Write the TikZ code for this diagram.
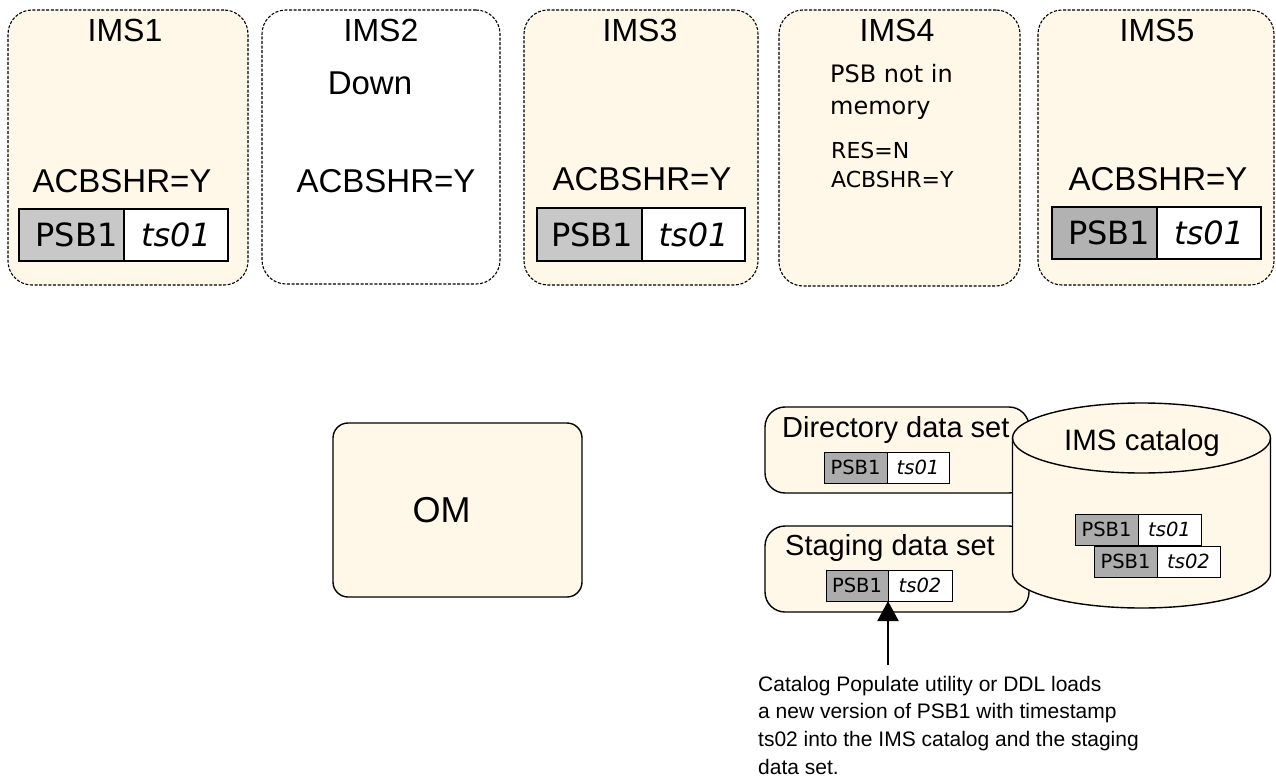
\documentclass[tikz,border=0pt]{standalone}
\usepackage{fontspec}
\setmainfont{Liberation Sans}
\newfontfamily\dvfont{DejaVu Sans}
\usetikzlibrary{arrows.meta}
\definecolor{cream}{RGB}{255,247,231}
\definecolor{psbgA}{RGB}{200,200,200}
\definecolor{psbgB}{RGB}{178,178,178}
\definecolor{psbgC}{RGB}{172,172,172}
\newcommand\fsz[1]{\fontsize{#1}{#1}\selectfont}
\begin{document}
\begin{tikzpicture}[x=1pt,y=-1pt,
  imsbox/.style={draw, line width=1.1pt, dash pattern=on 3pt off 1.6pt, rounded corners=24pt, outer sep=0pt, inner sep=0pt},
  imstitle/.style={anchor=base, inner sep=0pt, font=\fsz{32}},
  bigtxt/.style={anchor=base, inner sep=0pt, font=\fsz{33}},
  dvtxt/.style={anchor=base west, inner sep=0pt},
  psbl/.style={draw, line width=1.1pt, inner sep=0pt, outer sep=0pt, anchor=north east, font=\dvfont\fsz{32}},
  psbr/.style={draw, line width=1.1pt, fill=white, inner sep=0pt, outer sep=0pt, anchor=north west, font=\dvfont\itshape\fsz{32}},
  spsbl/.style={draw, line width=0.9pt, fill=psbgC, inner sep=0pt, outer sep=0pt, anchor=north east, font=\dvfont\fsz{19.5}},
  spsbr/.style={draw, line width=0.9pt, fill=white, inner sep=0pt, outer sep=0pt, anchor=north west, font=\dvfont\itshape\fsz{19.5}},
  dsbox/.style={draw, line width=1.4pt, fill=cream, rounded corners=20pt, inner sep=0pt, outer sep=0pt},
  captxt/.style={anchor=base west, inner sep=0pt, font=\fsz{21}}
]
\useasboundingbox (0,0) rectangle (1276,778);

% IMS boxes
\node[imsbox, fill=cream, minimum width=240pt, minimum height=275pt] (ims1) at (128,147.5) {};
\node[imsbox, fill=white, minimum width=238pt, minimum height=274pt] (ims2) at (381,147) {};
\node[imsbox, fill=cream, minimum width=234pt, minimum height=275pt] (ims3) at (641,147.5) {};
\node[imsbox, fill=cream, minimum width=241pt, minimum height=276pt] (ims4) at (899.5,148) {};
\node[imsbox, fill=cream, minimum width=236pt, minimum height=275pt] (ims5) at (1156,147.5) {};

\node[imstitle] (t1) at (125,42) {IMS1};
\node[imstitle] (t2) at (381,42) {IMS2};
\node[imstitle] (t3) at (640,42) {IMS3};
\node[imstitle] (t4) at (897,42) {IMS4};
\node[imstitle] (t5) at (1157,42) {IMS5};

\node[bigtxt] (down) at (370,95) {Down};
\node[bigtxt] (a1) at (122,193) {ACBSHR=Y};
\node[bigtxt] (a2) at (386,193) {ACBSHR=Y};
\node[bigtxt] (a3) at (642,190) {ACBSHR=Y};
\node[bigtxt] (a5) at (1158,190) {ACBSHR=Y};

% IMS4 text
\node[dvtxt, font=\dvfont\fsz{24}] (m1) at (830,83) {PSB not in};
\node[dvtxt, font=\dvfont\fsz{24}] (m2) at (830,115) {memory};
\node[dvtxt, font=\dvfont\fsz{22}] (m3) at (831,159) {RES=N};
\node[dvtxt, font=\dvfont\fsz{22}] (m4) at (831,188) {ACBSHR=Y};

% PSB boxes in IMS
\node[psbl, fill=psbgA, minimum width=105pt, minimum height=52pt] (p1l) at (124,209) {\hspace*{10pt}PSB1};
\node[psbr, minimum width=104pt, minimum height=52pt] (p1r) at (124,209) {ts01};
\node[psbl, fill=psbgA, minimum width=105pt, minimum height=53pt] (p3l) at (642,208) {\hspace*{5pt}PSB1};
\node[psbr, minimum width=103pt, minimum height=53pt] (p3r) at (642,208) {ts01};
\node[psbl, fill=psbgB, minimum width=105pt, minimum height=52pt] (p5l) at (1157,207) {\hspace*{9pt}PSB1};
\node[psbr, minimum width=104pt, minimum height=52pt] (p5r) at (1157,207) {ts01};

% OM
\node[draw, line width=1.4pt, fill=cream, rounded corners=15pt, minimum width=249pt, minimum height=174pt, inner sep=0pt] (om) at (457.5,510) {};
\node[anchor=base, inner sep=0pt, font=\fsz{36}] (omt) at (441.5,522) {OM};

% data sets
\node[dsbox, minimum width=264pt, minimum height=86pt] (dir) at (897,450) {};
\node[dsbox, minimum width=264pt, minimum height=86pt] (stg) at (897,569) {};
\node[anchor=base west, inner sep=0pt, font=\fsz{29}] (dirt) at (782,437) {Directory data set};
\node[anchor=base west, inner sep=0pt, font=\fsz{29}] (stgt) at (785,555) {Staging data set};
\node[spsbl, minimum width=63pt, minimum height=31pt] (dpl) at (887,452) {PSB1};
\node[spsbr, minimum width=62pt, minimum height=31pt] (dpr) at (887,452) {ts01};
\node[spsbl, minimum width=62pt, minimum height=31pt] (spl) at (888,570) {PSB1};
\node[spsbr, minimum width=64pt, minimum height=31pt] (spr) at (888,570) {ts02};

% cylinder
\draw[line width=1.4pt, fill=cream] (1012.5,438) -- (1012.5,573)
  arc[start angle=180, end angle=360, x radius=129pt, y radius=35pt]
  -- (1270.5,438)
  arc[start angle=0, end angle=180, x radius=129pt, y radius=35pt] -- cycle;
\draw[line width=1.4pt] (1012.5,438) arc[start angle=180, end angle=360, x radius=129pt, y radius=35pt];
\node[anchor=base, inner sep=0pt, font=\fsz{29.5}] (catt) at (1142,450) {IMS catalog};
\node[spsbl, minimum width=63pt, minimum height=31pt] (c1l) at (1138,514) {PSB1};
\node[spsbr, minimum width=63pt, minimum height=31pt] (c1r) at (1138,514) {ts01};
\node[spsbl, minimum width=63pt, minimum height=31pt] (c2l) at (1157,546) {PSB1};
\node[spsbr, minimum width=63pt, minimum height=31pt] (c2r) at (1157,546) {ts02};

% arrow and caption
\coordinate (arrstart) at (888,665);
\draw[line width=2pt, -{Triangle[width=21pt,length=20pt]}] (arrstart) -- (spl.south east);
\node[captxt] (c1) at (758,691) {Catalog Populate utility or DDL loads};
\node[captxt] (c2) at (758,718) {a new version of PSB1 with timestamp};
\node[captxt] (c3) at (758,746) {ts02 into the IMS catalog and the staging};
\node[captxt] (c4) at (758,774) {data set.};
\end{tikzpicture}
\end{document}
